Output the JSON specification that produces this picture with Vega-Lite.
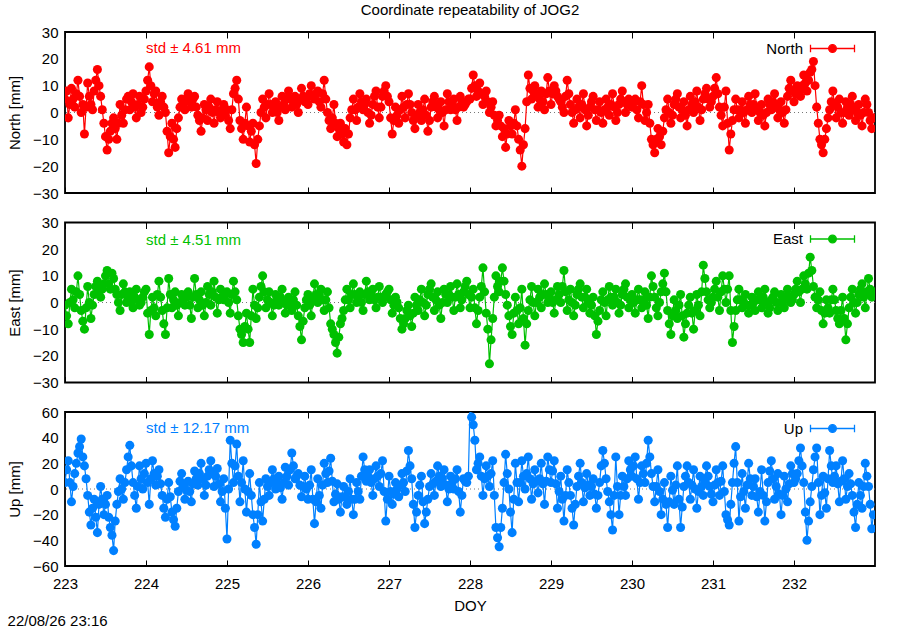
{
"$schema":"https://vega.github.io/schema/vega-lite/v6.json",
"padding":{"left":6,"top":2,"right":20,"bottom":6},
"bounds":"flush",
"spacing":29.5,
"config":{
 "font":"Liberation Sans",
 "view":{"stroke":"black","strokeWidth":1.8},
 "axis":{"domain":false,"ticks":false,"tickSize":0,"grid":true,"gridColor":"black","gridWidth":1,"gridOpacity":1,"labelFontSize":15,"labelColor":"black","titleFontSize":15,"titleFontWeight":"normal","titleColor":"black","labelFont":"Liberation Sans","titleFont":"Liberation Sans"},
 "axisX":{"labelFlush":false},
 "axisY":{"gridDash":[6,798]},
 "title":{"fontSize":15,"fontWeight":"normal","font":"Liberation Sans","color":"black"}
},
"datasets":{"ts":[
{"t":223.00,"n":5,"e":-1,"u":5},{"t":223.04,"n":-2,"e":-8,"u":22},{"t":223.08,"n":9,"e":5,"u":-10},{"t":223.12,"n":2,"e":-2,"u":12},{"t":223.16,"n":12,"e":10,"u":28},{"t":223.20,"n":0,"e":-3,"u":39},{"t":223.24,"n":-8,"e":-10,"u":18},{"t":223.28,"n":11,"e":6,"u":-5},{"t":223.32,"n":3,"e":-6,"u":-28},{"t":223.36,"n":8,"e":3,"u":-8},{"t":223.40,"n":16,"e":8,"u":-34},{"t":223.44,"n":6,"e":2,"u":2},{"t":223.48,"n":-4,"e":7,"u":-20},{"t":223.52,"n":-14,"e":12,"u":-5},{"t":223.56,"n":-7,"e":5,"u":-30},{"t":223.60,"n":-2,"e":9,"u":-48},{"t":223.64,"n":-10,"e":3,"u":-12},{"t":223.68,"n":3,"e":-3,"u":8},{"t":223.72,"n":-4,"e":7,"u":-8},{"t":223.76,"n":5,"e":0,"u":15},{"t":223.80,"n":1,"e":4,"u":34},{"t":223.84,"n":7,"e":-2,"u":5},{"t":223.88,"n":-2,"e":5,"u":-15},{"t":223.92,"n":6,"e":-1,"u":18},{"t":223.96,"n":2,"e":2,"u":0},
{"t":224.00,"n":8,"e":5,"u":20},{"t":224.04,"n":17,"e":-12,"u":-12},{"t":224.08,"n":4,"e":2,"u":22},{"t":224.12,"n":8,"e":-5,"u":3},{"t":224.16,"n":-1,"e":8,"u":15},{"t":224.20,"n":6,"e":-3,"u":-5},{"t":224.24,"n":0,"e":-12,"u":-22},{"t":224.28,"n":-15,"e":9,"u":5},{"t":224.32,"n":-4,"e":-2,"u":-18},{"t":224.36,"n":-13,"e":4,"u":-29},{"t":224.40,"n":-2,"e":-5,"u":-2},{"t":224.44,"n":5,"e":3,"u":12},{"t":224.48,"n":1,"e":-1,"u":-8},{"t":224.52,"n":7,"e":4,"u":6},{"t":224.56,"n":2,"e":-6,"u":-10},{"t":224.60,"n":6,"e":9,"u":14},{"t":224.64,"n":-1,"e":-2,"u":3},{"t":224.68,"n":-7,"e":4,"u":20},{"t":224.72,"n":3,"e":-5,"u":-5},{"t":224.76,"n":-3,"e":6,"u":10},{"t":224.80,"n":5,"e":-1,"u":22},{"t":224.84,"n":-4,"e":8,"u":2},{"t":224.88,"n":4,"e":-4,"u":16},{"t":224.92,"n":-2,"e":5,"u":-10},{"t":224.96,"n":3,"e":1,"u":8},
{"t":225.00,"n":1,"e":4,"u":-39},{"t":225.04,"n":-6,"e":-4,"u":38},{"t":225.08,"n":7,"e":8,"u":5},{"t":225.12,"n":12,"e":1,"u":35},{"t":225.16,"n":-3,"e":-10,"u":-10},{"t":225.20,"n":-10,"e":-15,"u":22},{"t":225.24,"n":2,"e":-4,"u":-18},{"t":225.28,"n":-11,"e":-15,"u":12},{"t":225.32,"n":-4,"e":5,"u":-20},{"t":225.36,"n":-19,"e":-6,"u":-43},{"t":225.40,"n":-5,"e":2,"u":5},{"t":225.44,"n":5,"e":10,"u":-25},{"t":225.48,"n":-2,"e":-2,"u":8},{"t":225.52,"n":7,"e":4,"u":-5},{"t":225.56,"n":0,"e":-5,"u":15},{"t":225.60,"n":4,"e":3,"u":0},{"t":225.64,"n":-3,"e":-1,"u":10},{"t":225.68,"n":6,"e":5,"u":-8},{"t":225.72,"n":1,"e":-4,"u":17},{"t":225.76,"n":8,"e":2,"u":3},{"t":225.80,"n":2,"e":-3,"u":28},{"t":225.84,"n":6,"e":4,"u":8},{"t":225.88,"n":0,"e":-5,"u":12},{"t":225.92,"n":9,"e":-14,"u":-6},{"t":225.96,"n":4,"e":-2,"u":10},
{"t":226.00,"n":3,"e":3,"u":-8},{"t":226.04,"n":10,"e":-5,"u":15},{"t":226.08,"n":5,"e":7,"u":-27},{"t":226.12,"n":8,"e":0,"u":8},{"t":226.16,"n":2,"e":5,"u":-15},{"t":226.20,"n":12,"e":-3,"u":20},{"t":226.24,"n":0,"e":4,"u":5},{"t":226.28,"n":-6,"e":-8,"u":24},{"t":226.32,"n":3,"e":-12,"u":-10},{"t":226.36,"n":-9,"e":-19,"u":4},{"t":226.40,"n":-4,"e":-8,"u":-18},{"t":226.44,"n":-11,"e":-3,"u":2},{"t":226.48,"n":-12,"e":5,"u":-12},{"t":226.52,"n":-2,"e":-2,"u":8},{"t":226.56,"n":5,"e":7,"u":-20},{"t":226.60,"n":-3,"e":0,"u":5},{"t":226.64,"n":7,"e":4,"u":-8},{"t":226.68,"n":1,"e":-3,"u":25},{"t":226.72,"n":5,"e":8,"u":6},{"t":226.76,"n":-4,"e":1,"u":15},{"t":226.80,"n":3,"e":5,"u":-5},{"t":226.84,"n":8,"e":-2,"u":18},{"t":226.88,"n":-2,"e":6,"u":2},{"t":226.92,"n":6,"e":0,"u":22},{"t":226.96,"n":10,"e":3,"u":-25},
{"t":227.00,"n":4,"e":5,"u":10},{"t":227.04,"n":-8,"e":-4,"u":-12},{"t":227.08,"n":2,"e":2,"u":5},{"t":227.12,"n":-4,"e":-2,"u":-6},{"t":227.16,"n":6,"e":-10,"u":12},{"t":227.20,"n":-2,"e":-6,"u":-2},{"t":227.24,"n":7,"e":-1,"u":30},{"t":227.28,"n":0,"e":-9,"u":8},{"t":227.32,"n":-6,"e":2,"u":-30},{"t":227.36,"n":3,"e":-3,"u":-5},{"t":227.40,"n":-3,"e":5,"u":10},{"t":227.44,"n":5,"e":-5,"u":-27},{"t":227.48,"n":-7,"e":3,"u":-8},{"t":227.52,"n":2,"e":7,"u":12},{"t":227.56,"n":6,"e":-3,"u":-5},{"t":227.60,"n":-2,"e":4,"u":18},{"t":227.64,"n":4,"e":-6,"u":2},{"t":227.68,"n":-5,"e":5,"u":15},{"t":227.72,"n":7,"e":0,"u":-10},{"t":227.76,"n":1,"e":6,"u":10},{"t":227.80,"n":5,"e":-3,"u":0},{"t":227.84,"n":-3,"e":7,"u":15},{"t":227.88,"n":6,"e":-2,"u":-18},{"t":227.92,"n":2,"e":4,"u":8},{"t":227.96,"n":4,"e":8,"u":5},
{"t":228.00,"n":5,"e":-2,"u":64},{"t":228.04,"n":14,"e":5,"u":50},{"t":228.08,"n":6,"e":-8,"u":15},{"t":228.12,"n":11,"e":2,"u":25},{"t":228.16,"n":3,"e":13,"u":-5},{"t":228.20,"n":8,"e":-4,"u":18},{"t":228.24,"n":0,"e":-23,"u":2},{"t":228.28,"n":4,"e":-6,"u":22},{"t":228.32,"n":-5,"e":10,"u":-30},{"t":228.36,"n":-1,"e":4,"u":-45},{"t":228.40,"n":-9,"e":13,"u":-15},{"t":228.44,"n":-13,"e":3,"u":27},{"t":228.48,"n":-3,"e":-5,"u":0},{"t":228.52,"n":-8,"e":-12,"u":-34},{"t":228.56,"n":1,"e":2,"u":20},{"t":228.60,"n":-10,"e":-8,"u":-10},{"t":228.64,"n":-20,"e":5,"u":22},{"t":228.68,"n":-6,"e":-16,"u":0},{"t":228.72,"n":14,"e":-3,"u":25},{"t":228.76,"n":5,"e":6,"u":-8},{"t":228.80,"n":10,"e":-5,"u":15},{"t":228.84,"n":2,"e":5,"u":-3},{"t":228.88,"n":8,"e":-2,"u":20},{"t":228.92,"n":1,"e":7,"u":-12},{"t":228.96,"n":13,"e":0,"u":25},
{"t":229.00,"n":3,"e":4,"u":5},{"t":229.04,"n":10,"e":-4,"u":22},{"t":229.08,"n":6,"e":6,"u":-15},{"t":229.12,"n":4,"e":0,"u":10},{"t":229.16,"n":0,"e":12,"u":-25},{"t":229.20,"n":12,"e":-3,"u":15},{"t":229.24,"n":3,"e":5,"u":-5},{"t":229.28,"n":-4,"e":-5,"u":-28},{"t":229.32,"n":5,"e":3,"u":2},{"t":229.36,"n":-2,"e":7,"u":20},{"t":229.40,"n":7,"e":-2,"u":-10},{"t":229.44,"n":-5,"e":5,"u":12},{"t":229.48,"n":2,"e":-4,"u":-5},{"t":229.52,"n":6,"e":2,"u":8},{"t":229.56,"n":-3,"e":-12,"u":-15},{"t":229.60,"n":4,"e":-3,"u":5},{"t":229.64,"n":-4,"e":4,"u":30},{"t":229.68,"n":5,"e":-5,"u":8},{"t":229.72,"n":-1,"e":6,"u":-10},{"t":229.76,"n":7,"e":-1,"u":-32},{"t":229.80,"n":-3,"e":5,"u":25},{"t":229.84,"n":3,"e":-4,"u":-20},{"t":229.88,"n":8,"e":3,"u":10},{"t":229.92,"n":0,"e":7,"u":-5},{"t":229.96,"n":5,"e":-2,"u":22},
{"t":230.00,"n":2,"e":3,"u":10},{"t":230.04,"n":5,"e":-4,"u":25},{"t":230.08,"n":-2,"e":5,"u":-8},{"t":230.12,"n":10,"e":-2,"u":18},{"t":230.16,"n":-3,"e":4,"u":5},{"t":230.20,"n":3,"e":-6,"u":38},{"t":230.24,"n":-10,"e":10,"u":12},{"t":230.28,"n":-15,"e":2,"u":-10},{"t":230.32,"n":-6,"e":-5,"u":15},{"t":230.36,"n":-12,"e":4,"u":-20},{"t":230.40,"n":-2,"e":11,"u":5},{"t":230.44,"n":5,"e":-3,"u":-30},{"t":230.48,"n":-4,"e":-12,"u":10},{"t":230.52,"n":3,"e":1,"u":-12},{"t":230.56,"n":7,"e":-6,"u":18},{"t":230.60,"n":-2,"e":3,"u":-30},{"t":230.64,"n":4,"e":-13,"u":2},{"t":230.68,"n":-5,"e":-4,"u":18},{"t":230.72,"n":6,"e":2,"u":-8},{"t":230.76,"n":0,"e":-10,"u":15},{"t":230.80,"n":8,"e":3,"u":-15},{"t":230.84,"n":-3,"e":-5,"u":10},{"t":230.88,"n":5,"e":14,"u":-5},{"t":230.92,"n":9,"e":4,"u":18},{"t":230.96,"n":2,"e":-2,"u":2},
{"t":231.00,"n":6,"e":2,"u":-10},{"t":231.04,"n":13,"e":8,"u":15},{"t":231.08,"n":2,"e":-3,"u":-5},{"t":231.12,"n":-5,"e":10,"u":18},{"t":231.16,"n":8,"e":0,"u":-20},{"t":231.20,"n":-14,"e":10,"u":-28},{"t":231.24,"n":-3,"e":-15,"u":5},{"t":231.28,"n":5,"e":-3,"u":33},{"t":231.32,"n":-2,"e":5,"u":-25},{"t":231.36,"n":4,"e":-2,"u":12},{"t":231.40,"n":-4,"e":3,"u":-15},{"t":231.44,"n":6,"e":-4,"u":20},{"t":231.48,"n":0,"e":2,"u":-5},{"t":231.52,"n":7,"e":-3,"u":8},{"t":231.56,"n":-3,"e":4,"u":-18},{"t":231.60,"n":3,"e":-2,"u":15},{"t":231.64,"n":-5,"e":5,"u":-25},{"t":231.68,"n":5,"e":-4,"u":5},{"t":231.72,"n":1,"e":1,"u":22},{"t":231.76,"n":7,"e":4,"u":-8},{"t":231.80,"n":-2,"e":-3,"u":12},{"t":231.84,"n":4,"e":3,"u":-20},{"t":231.88,"n":-4,"e":-2,"u":10},{"t":231.92,"n":6,"e":5,"u":-10},{"t":231.96,"n":12,"e":0,"u":18},
{"t":232.00,"n":4,"e":3,"u":5},{"t":232.04,"n":10,"e":8,"u":12},{"t":232.08,"n":6,"e":0,"u":32},{"t":232.12,"n":14,"e":10,"u":5},{"t":232.16,"n":8,"e":5,"u":-40},{"t":232.20,"n":15,"e":17,"u":-10},{"t":232.24,"n":19,"e":6,"u":15},{"t":232.28,"n":2,"e":-2,"u":32},{"t":232.32,"n":-10,"e":4,"u":-20},{"t":232.36,"n":-15,"e":-8,"u":10},{"t":232.40,"n":-6,"e":1,"u":-15},{"t":232.44,"n":1,"e":-4,"u":30},{"t":232.48,"n":8,"e":5,"u":5},{"t":232.52,"n":-2,"e":-3,"u":18},{"t":232.56,"n":5,"e":-8,"u":-10},{"t":232.60,"n":-4,"e":2,"u":22},{"t":232.64,"n":4,"e":-14,"u":-8},{"t":232.68,"n":-1,"e":-2,"u":12},{"t":232.72,"n":6,"e":5,"u":-5},{"t":232.76,"n":-3,"e":-4,"u":-30},{"t":232.80,"n":3,"e":3,"u":5},{"t":232.84,"n":-5,"e":7,"u":-15},{"t":232.88,"n":5,"e":-2,"u":20},{"t":232.92,"n":0,"e":9,"u":2},{"t":232.96,"n":-6,"e":2,"u":-31},
{"t":223.02,"n":8,"e":-5,"u":15},{"t":223.06,"n":3,"e":0,"u":5},{"t":223.10,"n":5,"e":1,"u":2},{"t":223.14,"n":7,"e":4,"u":20},{"t":223.18,"n":6,"e":3,"u":33},{"t":223.22,"n":3,"e":-7,"u":25},{"t":223.26,"n":2,"e":-2,"u":8},{"t":223.30,"n":6,"e":0,"u":-18},{"t":223.34,"n":1,"e":-1,"u":-15},{"t":223.38,"n":12,"e":6,"u":-22},{"t":223.42,"n":10,"e":4,"u":-12},{"t":223.46,"n":1,"e":5,"u":-8},{"t":223.50,"n":-9,"e":10,"u":-12},{"t":223.54,"n":-10,"e":7,"u":-22},{"t":223.58,"n":-4,"e":11,"u":-36},{"t":223.62,"n":-6,"e":5,"u":-25},{"t":223.66,"n":-4,"e":0,"u":-2},{"t":223.70,"n":-1,"e":3,"u":0},{"t":223.74,"n":1,"e":4,"u":5},{"t":223.78,"n":6,"e":2,"u":25},{"t":223.82,"n":4,"e":0,"u":18},{"t":223.86,"n":2,"e":2,"u":-5},{"t":223.90,"n":3,"e":1,"u":2},{"t":223.94,"n":0,"e":0,"u":8},{"t":223.98,"n":5,"e":4,"u":12},
{"t":224.02,"n":12,"e":-4,"u":5},{"t":224.06,"n":10,"e":-3,"u":8},{"t":224.10,"n":7,"e":-2,"u":12},{"t":224.14,"n":2,"e":3,"u":10},{"t":224.18,"n":4,"e":2,"u":4},{"t":224.22,"n":2,"e":-8,"u":-15},{"t":224.26,"n":-7,"e":-2,"u":-8},{"t":224.30,"n":-9,"e":3,"u":-6},{"t":224.34,"n":-10,"e":1,"u":-24},{"t":224.38,"n":-6,"e":-1,"u":-15},{"t":224.42,"n":2,"e":0,"u":6},{"t":224.46,"n":3,"e":1,"u":2},{"t":224.50,"n":5,"e":2,"u":-1},{"t":224.54,"n":4,"e":-1,"u":-2},{"t":224.58,"n":5,"e":2,"u":4},{"t":224.62,"n":2,"e":3,"u":8},{"t":224.66,"n":-3,"e":1,"u":12},{"t":224.70,"n":-2,"e":-1,"u":8},{"t":224.74,"n":1,"e":0,"u":3},{"t":224.78,"n":2,"e":3,"u":15},{"t":224.82,"n":0,"e":4,"u":12},{"t":224.86,"n":1,"e":2,"u":10},{"t":224.90,"n":0,"e":1,"u":4},{"t":224.94,"n":1,"e":2,"u":-2},{"t":224.98,"n":-1,"e":3,"u":-15},
{"t":225.02,"n":-3,"e":0,"u":0},{"t":225.06,"n":1,"e":3,"u":20},{"t":225.10,"n":9,"e":4,"u":18},{"t":225.14,"n":5,"e":-5,"u":10},{"t":225.18,"n":-6,"e":-12,"u":5},{"t":225.22,"n":-4,"e":-9,"u":0},{"t":225.26,"n":-5,"e":-10,"u":-2},{"t":225.30,"n":-7,"e":-5,"u":-5},{"t":225.34,"n":-12,"e":-1,"u":-30},{"t":225.38,"n":-10,"e":-2,"u":-20},{"t":225.42,"n":0,"e":6,"u":-10},{"t":225.46,"n":2,"e":4,"u":-8},{"t":225.50,"n":3,"e":1,"u":2},{"t":225.54,"n":3,"e":0,"u":5},{"t":225.58,"n":2,"e":-1,"u":8},{"t":225.62,"n":0,"e":1,"u":4},{"t":225.66,"n":2,"e":2,"u":1},{"t":225.70,"n":3,"e":0,"u":5},{"t":225.74,"n":5,"e":-1,"u":10},{"t":225.78,"n":5,"e":0,"u":15},{"t":225.82,"n":4,"e":1,"u":18},{"t":225.86,"n":3,"e":-1,"u":10},{"t":225.90,"n":5,"e":-9,"u":3},{"t":225.94,"n":6,"e":-7,"u":2},{"t":225.98,"n":5,"e":1,"u":0},
{"t":226.02,"n":7,"e":-1,"u":3},{"t":226.06,"n":6,"e":1,"u":-8},{"t":226.10,"n":7,"e":3,"u":-10},{"t":226.14,"n":4,"e":3,"u":-5},{"t":226.18,"n":7,"e":1,"u":3},{"t":226.22,"n":5,"e":1,"u":12},{"t":226.26,"n":-3,"e":-2,"u":14},{"t":226.30,"n":-2,"e":-10,"u":6},{"t":226.34,"n":-4,"e":-15,"u":-4},{"t":226.38,"n":-6,"e":-13,"u":-8},{"t":226.42,"n":-8,"e":-6,"u":-6},{"t":226.46,"n":-6,"e":1,"u":-6},{"t":226.50,"n":-8,"e":1,"u":-2},{"t":226.54,"n":1,"e":3,"u":-8},{"t":226.58,"n":1,"e":3,"u":-8},{"t":226.62,"n":2,"e":2,"u":-2},{"t":226.66,"n":4,"e":0,"u":10},{"t":226.70,"n":3,"e":3,"u":15},{"t":226.74,"n":0,"e":4,"u":10},{"t":226.78,"n":-1,"e":3,"u":5},{"t":226.82,"n":6,"e":1,"u":8},{"t":226.86,"n":2,"e":2,"u":10},{"t":226.90,"n":2,"e":2,"u":12},{"t":226.94,"n":8,"e":2,"u":-2},{"t":226.98,"n":6,"e":4,"u":-8},
{"t":227.02,"n":-2,"e":1,"u":-2},{"t":227.06,"n":-3,"e":-1,"u":-4},{"t":227.10,"n":-1,"e":0,"u":0},{"t":227.14,"n":1,"e":-6,"u":3},{"t":227.18,"n":2,"e":-8,"u":5},{"t":227.22,"n":3,"e":-3,"u":14},{"t":227.26,"n":3,"e":-5,"u":18},{"t":227.30,"n":-3,"e":-4,"u":-12},{"t":227.34,"n":-1,"e":-1,"u":-18},{"t":227.38,"n":0,"e":1,"u":3},{"t":227.42,"n":1,"e":0,"u":-10},{"t":227.46,"n":-1,"e":-1,"u":-18},{"t":227.50,"n":-3,"e":5,"u":2},{"t":227.54,"n":4,"e":2,"u":4},{"t":227.58,"n":2,"e":1,"u":6},{"t":227.62,"n":1,"e":-1,"u":10},{"t":227.66,"n":0,"e":0,"u":8},{"t":227.70,"n":1,"e":3,"u":3},{"t":227.74,"n":4,"e":3,"u":0},{"t":227.78,"n":3,"e":2,"u":5},{"t":227.82,"n":1,"e":2,"u":8},{"t":227.86,"n":2,"e":3,"u":-2},{"t":227.90,"n":4,"e":1,"u":-5},{"t":227.94,"n":3,"e":6,"u":6},{"t":227.98,"n":5,"e":3,"u":10},
{"t":228.02,"n":9,"e":2,"u":56},{"t":228.06,"n":10,"e":-2,"u":38},{"t":228.10,"n":8,"e":-3,"u":20},{"t":228.14,"n":7,"e":6,"u":10},{"t":228.18,"n":6,"e":4,"u":8},{"t":228.22,"n":4,"e":-10,"u":10},{"t":228.26,"n":2,"e":-14,"u":12},{"t":228.30,"n":-1,"e":2,"u":-5},{"t":228.34,"n":-3,"e":6,"u":-38},{"t":228.38,"n":-5,"e":8,"u":-30},{"t":228.42,"n":-6,"e":8,"u":5},{"t":228.46,"n":-8,"e":-1,"u":12},{"t":228.50,"n":-5,"e":-9,"u":-18},{"t":228.54,"n":-4,"e":-4,"u":-8},{"t":228.58,"n":-5,"e":-3,"u":5},{"t":228.62,"n":-14,"e":-2,"u":5},{"t":228.66,"n":-12,"e":-6,"u":10},{"t":228.70,"n":4,"e":-8,"u":12},{"t":228.74,"n":9,"e":1,"u":8},{"t":228.78,"n":8,"e":0,"u":4},{"t":228.82,"n":6,"e":0,"u":6},{"t":228.86,"n":5,"e":2,"u":8},{"t":228.90,"n":4,"e":3,"u":4},{"t":228.94,"n":7,"e":3,"u":6},{"t":228.98,"n":8,"e":2,"u":15},
{"t":229.02,"n":7,"e":0,"u":14},{"t":229.06,"n":8,"e":1,"u":4},{"t":229.10,"n":5,"e":3,"u":-2},{"t":229.14,"n":2,"e":6,"u":-8},{"t":229.18,"n":6,"e":4,"u":-5},{"t":229.22,"n":7,"e":1,"u":5},{"t":229.26,"n":0,"e":0,"u":-15},{"t":229.30,"n":1,"e":-1,"u":-12},{"t":229.34,"n":2,"e":5,"u":10},{"t":229.38,"n":3,"e":2,"u":5},{"t":229.42,"n":1,"e":2,"u":1},{"t":229.46,"n":-1,"e":0,"u":3},{"t":229.50,"n":4,"e":-1,"u":2},{"t":229.54,"n":1,"e":-5,"u":-4},{"t":229.58,"n":1,"e":-7,"u":-5},{"t":229.62,"n":0,"e":1,"u":18},{"t":229.66,"n":1,"e":0,"u":20},{"t":229.70,"n":2,"e":1,"u":-2},{"t":229.74,"n":3,"e":2,"u":-20},{"t":229.78,"n":2,"e":2,"u":-5},{"t":229.82,"n":0,"e":0,"u":2},{"t":229.86,"n":5,"e":-1,"u":-5},{"t":229.90,"n":4,"e":5,"u":2},{"t":229.94,"n":3,"e":2,"u":8},{"t":229.98,"n":3,"e":1,"u":15},
{"t":230.02,"n":4,"e":0,"u":18},{"t":230.06,"n":1,"e":1,"u":8},{"t":230.10,"n":4,"e":1,"u":5},{"t":230.14,"n":3,"e":1,"u":12},{"t":230.18,"n":0,"e":-1,"u":20},{"t":230.22,"n":-4,"e":2,"u":25},{"t":230.26,"n":-12,"e":6,"u":2},{"t":230.30,"n":-10,"e":-2,"u":2},{"t":230.34,"n":-9,"e":0,"u":-2},{"t":230.38,"n":-7,"e":7,"u":-8},{"t":230.42,"n":1,"e":4,"u":-12},{"t":230.46,"n":0,"e":-8,"u":-10},{"t":230.50,"n":-1,"e":-5,"u":-1},{"t":230.54,"n":5,"e":-3,"u":3},{"t":230.58,"n":2,"e":-1,"u":-8},{"t":230.62,"n":1,"e":-5,"u":-14},{"t":230.66,"n":-1,"e":-8,"u":10},{"t":230.70,"n":1,"e":-1,"u":5},{"t":230.74,"n":3,"e":-4,"u":3},{"t":230.78,"n":4,"e":-3,"u":0},{"t":230.82,"n":2,"e":-1,"u":-2},{"t":230.86,"n":1,"e":4,"u":2},{"t":230.90,"n":7,"e":9,"u":6},{"t":230.94,"n":5,"e":1,"u":10},{"t":230.98,"n":4,"e":0,"u":-4},
{"t":231.02,"n":9,"e":5,"u":3},{"t":231.06,"n":7,"e":2,"u":5},{"t":231.10,"n":-1,"e":4,"u":6},{"t":231.14,"n":2,"e":5,"u":-2},{"t":231.18,"n":-4,"e":5,"u":-24},{"t":231.22,"n":-8,"e":-3,"u":-12},{"t":231.26,"n":1,"e":-9,"u":20},{"t":231.30,"n":1,"e":1,"u":5},{"t":231.34,"n":1,"e":1,"u":-6},{"t":231.38,"n":0,"e":0,"u":-2},{"t":231.42,"n":1,"e":-1,"u":3},{"t":231.46,"n":3,"e":-1,"u":8},{"t":231.50,"n":3,"e":0,"u":2},{"t":231.54,"n":2,"e":1,"u":-6},{"t":231.58,"n":0,"e":1,"u":-2},{"t":231.62,"n":-1,"e":2,"u":-5},{"t":231.66,"n":0,"e":0,"u":-10},{"t":231.70,"n":3,"e":-2,"u":14},{"t":231.74,"n":4,"e":2,"u":8},{"t":231.78,"n":2,"e":0,"u":2},{"t":231.82,"n":1,"e":0,"u":-4},{"t":231.86,"n":0,"e":0,"u":-5},{"t":231.90,"n":1,"e":2,"u":0},{"t":231.94,"n":9,"e":2,"u":4},{"t":231.98,"n":8,"e":1,"u":12},
{"t":232.02,"n":7,"e":5,"u":8},{"t":232.06,"n":8,"e":4,"u":22},{"t":232.10,"n":10,"e":5,"u":18},{"t":232.14,"n":11,"e":7,"u":-18},{"t":232.18,"n":12,"e":11,"u":-25},{"t":232.22,"n":16,"e":12,"u":2},{"t":232.26,"n":10,"e":2,"u":25},{"t":232.30,"n":-4,"e":1,"u":5},{"t":232.34,"n":-12,"e":-3,"u":-5},{"t":232.38,"n":-10,"e":-4,"u":-3},{"t":232.42,"n":-2,"e":-2,"u":8},{"t":232.46,"n":4,"e":1,"u":18},{"t":232.50,"n":3,"e":1,"u":10},{"t":232.54,"n":2,"e":-6,"u":4},{"t":232.58,"n":0,"e":-3,"u":6},{"t":232.62,"n":0,"e":-6,"u":8},{"t":232.66,"n":2,"e":-8,"u":2},{"t":232.70,"n":3,"e":2,"u":4},{"t":232.74,"n":1,"e":0,"u":-18},{"t":232.78,"n":0,"e":0,"u":-12},{"t":232.82,"n":-1,"e":5,"u":-5},{"t":232.86,"n":0,"e":2,"u":2},{"t":232.90,"n":3,"e":4,"u":10},{"t":232.94,"n":-3,"e":5,"u":-12},{"t":232.98,"n":-2,"e":4,"u":-20}
]},
"resolve":{"scale":{"x":"independent","y":"independent","color":"independent"},"legend":{"color":"independent"}},
"vconcat":[
{
 "width":810,"height":161,
 "title":{"text":"Coordinate repeatability of JOG2","anchor":"middle","frame":"group","baseline":"alphabetic","offset":-5},
 "resolve":{"axis":{"x":"independent","y":"independent"}},
 "layer":[
  {"data":{"values":[{}]},"mark":{"type":"rule","strokeDash":[1,3],"color":"#777777","strokeWidth":1},
   "encoding":{"y":{"datum":0,"type":"quantitative","axis":null}}},
  {"data":{"name":"ts"},
   "mark":{"type":"line","clip":true,"strokeWidth":1.2,"point":{"filled":true,"size":82,"clip":true}},
   "encoding":{
    "x":{"field":"t","type":"quantitative","scale":{"domain":[223,233],"nice":false,"zero":false},"axis":{"values":[223,224,225,226,227,228,229,230,231,232],"labels":false,"title":null,"gridDash":[6,149]}},
    "y":{"field":"n","type":"quantitative","scale":{"domain":[-30,30],"nice":false},"axis":{"values":[-30,-20,-10,0,10,20,30],"title":"North [mm]","labelPadding":7,"titlePadding":10}},
    "color":{"datum":"North","type":"nominal","scale":{"range":["#ff0000"]},
     "legend":{"orient":"none","legendX":760,"legendY":9,"title":null,"symbolType":"M-4,-0.67L-4,0.67M-4,0L4,0M4,-0.67L4,0.67M0.7,0A0.7,0.7 0 1 1 -0.7,0A0.7,0.7 0 1 1 0.7,0Z","symbolSize":121,"symbolStrokeWidth":1.3,"symbolFillColor":"#ff0000","symbolStrokeColor":"#ff6060","symbolOpacity":1,"labelAlign":"right","labelOffset":-37,"labelFontSize":15,"labelColor":"black","padding":0}}
   }},
  {"data":{"values":[{}]},"mark":{"type":"text","align":"left","baseline":"middle","fontSize":15,"color":"#ff0000"},
   "encoding":{
    "x":{"datum":224,"type":"quantitative","axis":null},
    "y":{"datum":24,"type":"quantitative","axis":null},
    "text":{"value":"std ± 4.61 mm"}}}
 ]
},
{
 "width":810,"height":160,
 "resolve":{"axis":{"x":"independent","y":"independent"}},
 "layer":[
  {"data":{"values":[{}]},"mark":{"type":"rule","strokeDash":[1,3],"color":"#777777","strokeWidth":1},
   "encoding":{"y":{"datum":0,"type":"quantitative","axis":null}}},
  {"data":{"name":"ts"},
   "mark":{"type":"line","clip":true,"strokeWidth":1.2,"point":{"filled":true,"size":82,"clip":true}},
   "encoding":{
    "x":{"field":"t","type":"quantitative","scale":{"domain":[223,233],"nice":false,"zero":false},"axis":{"values":[223,224,225,226,227,228,229,230,231,232],"labels":false,"title":null,"gridDash":[6,148]}},
    "y":{"field":"e","type":"quantitative","scale":{"domain":[-30,30],"nice":false},"axis":{"values":[-30,-20,-10,0,10,20,30],"title":"East [mm]","labelPadding":7,"titlePadding":10}},
    "color":{"datum":"East","type":"nominal","scale":{"range":["#00c000"]},
     "legend":{"orient":"none","legendX":760,"legendY":9,"title":null,"symbolType":"M-4,-0.67L-4,0.67M-4,0L4,0M4,-0.67L4,0.67M0.7,0A0.7,0.7 0 1 1 -0.7,0A0.7,0.7 0 1 1 0.7,0Z","symbolSize":121,"symbolStrokeWidth":1.3,"symbolFillColor":"#00c000","symbolStrokeColor":"#50d050","symbolOpacity":1,"labelAlign":"right","labelOffset":-37,"labelFontSize":15,"labelColor":"black","padding":0}}
   }},
  {"data":{"values":[{}]},"mark":{"type":"text","align":"left","baseline":"middle","fontSize":15,"color":"#00c000"},
   "encoding":{
    "x":{"datum":224,"type":"quantitative","axis":null},
    "y":{"datum":23.6,"type":"quantitative","axis":null},
    "text":{"value":"std ± 4.51 mm"}}}
 ]
},
{
 "width":810,"height":154,
 "title":{"text":"22/08/26 23:16","orient":"bottom","anchor":"start","frame":"bounds","offset":1},
 "resolve":{"axis":{"x":"independent","y":"independent"}},
 "layer":[
  {"data":{"values":[{}]},"mark":{"type":"rule","strokeDash":[1,3],"color":"#777777","strokeWidth":1},
   "encoding":{"y":{"datum":0,"type":"quantitative","axis":null}}},
  {"data":{"name":"ts"},
   "mark":{"type":"line","clip":true,"strokeWidth":1.2,"point":{"filled":true,"size":82,"clip":true}},
   "encoding":{
    "x":{"field":"t","type":"quantitative","scale":{"domain":[223,233],"nice":false,"zero":false},"axis":{"values":[223,224,225,226,227,228,229,230,231,232],"format":"d","labelPadding":10,"title":"DOY","titlePadding":7,"gridDash":[6,142]}},
    "y":{"field":"u","type":"quantitative","scale":{"domain":[-60,60],"nice":false},"axis":{"values":[-60,-40,-20,0,20,40,60],"title":"Up [mm]","labelPadding":7,"titlePadding":10}},
    "color":{"datum":"Up","type":"nominal","scale":{"range":["#0080ff"]},
     "legend":{"orient":"none","legendX":760,"legendY":9,"title":null,"symbolType":"M-4,-0.67L-4,0.67M-4,0L4,0M4,-0.67L4,0.67M0.7,0A0.7,0.7 0 1 1 -0.7,0A0.7,0.7 0 1 1 0.7,0Z","symbolSize":121,"symbolStrokeWidth":1.3,"symbolFillColor":"#0080ff","symbolStrokeColor":"#60a8ff","symbolOpacity":1,"labelAlign":"right","labelOffset":-37,"labelFontSize":15,"labelColor":"black","padding":0}}
   }},
  {"data":{"values":[{}]},"mark":{"type":"text","align":"left","baseline":"middle","fontSize":15,"color":"#0080ff"},
   "encoding":{
    "x":{"datum":224,"type":"quantitative","axis":null},
    "y":{"datum":47.5,"type":"quantitative","axis":null},
    "text":{"value":"std ± 12.17 mm"}}}
 ]
}
]
}
